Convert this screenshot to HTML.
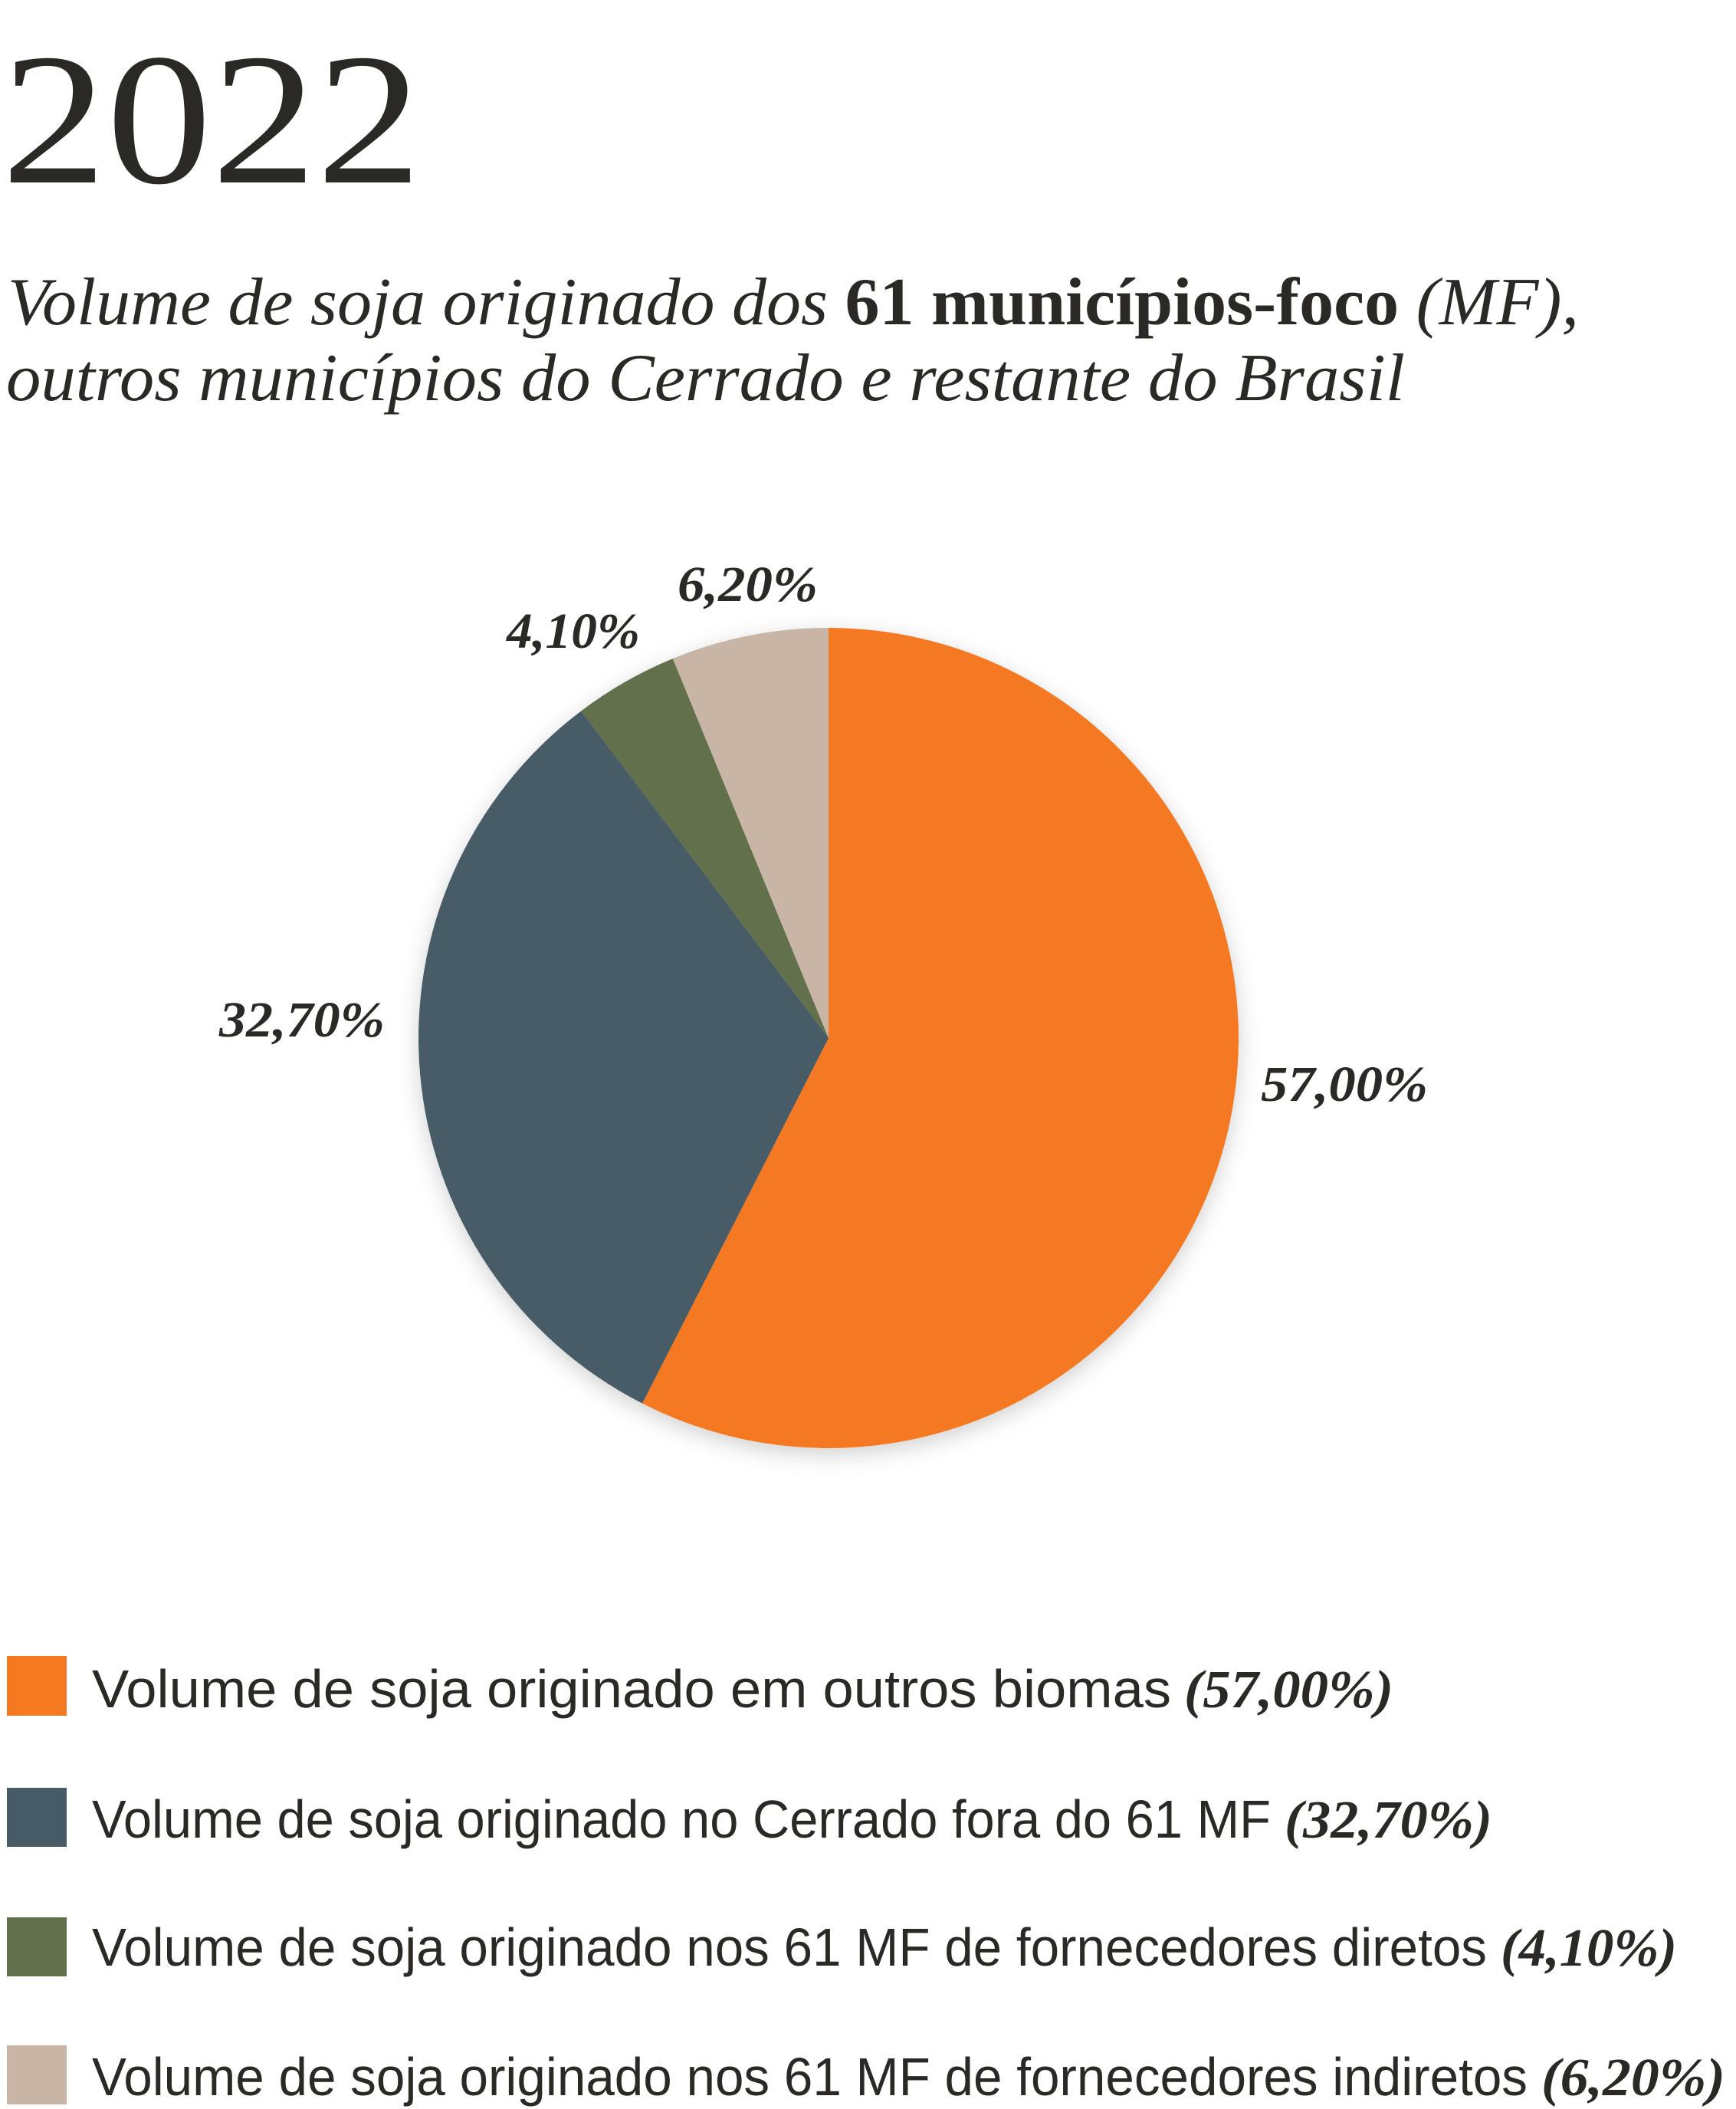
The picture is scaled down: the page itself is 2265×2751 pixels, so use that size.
<!DOCTYPE html>
<html><head><meta charset="utf-8"><style>
html,body{margin:0;padding:0;background:#fff;}
svg{display:block;}
</style></head><body>
<svg width="2265" height="2751" viewBox="0 0 2265 2751" xmlns="http://www.w3.org/2000/svg">
<defs>
<filter id="sh" x="-20%" y="-20%" width="140%" height="140%">
<feDropShadow dx="0" dy="8" stdDeviation="14" flood-color="#000" flood-opacity="0.18"/>
</filter>
</defs>
<g fill="#2a2925">
<text x="2" y="238" font-family="Liberation Serif, serif" font-size="245" textLength="548" lengthAdjust="spacingAndGlyphs">2022</text>
<text x="10" y="423" font-family="Liberation Serif, serif" font-style="italic" font-size="88" textLength="2050" lengthAdjust="spacingAndGlyphs">Volume de soja originado dos <tspan font-weight="bold" font-style="normal">61 municípios-foco</tspan> (MF),</text>
<text x="8" y="522" font-family="Liberation Serif, serif" font-style="italic" font-size="88" textLength="1825" lengthAdjust="spacingAndGlyphs">outros municípios do Cerrado e restante do Brasil</text>
</g>
<g filter="url(#sh)" transform="translate(1081,1354) scale(1.0075) translate(-1074,-1346)">
<path d="M1074,1346 L1074,815 A531,531 0 1 1 832.9,1819.1 Z" fill="#F47920"/>
<path d="M1074,1346 L832.9,1819.1 A531,531 0 0 1 753.7,922.5 Z" fill="#465B66"/>
<path d="M1074,1346 L753.7,922.5 A531,531 0 0 1 872.3,854.8 Z" fill="#62704B"/>
<path d="M1074,1346 L872.3,854.8 A531,531 0 0 1 1074,815 Z" fill="#C8B5A5"/>
</g>
<g fill="#2a2925" font-family="Liberation Serif, serif" font-style="italic" font-weight="bold" font-size="66" transform="translate(7,7)">
<text x="877" y="777" textLength="183" lengthAdjust="spacingAndGlyphs">6,20%</text>
<text x="654" y="838" textLength="174" lengthAdjust="spacingAndGlyphs">4,10%</text>
<text x="279" y="1345" textLength="216" lengthAdjust="spacingAndGlyphs">32,70%</text>
<text x="1638" y="1429" textLength="218" lengthAdjust="spacingAndGlyphs">57,00%</text>
</g>
<rect x="9" y="2160" width="78" height="78" fill="#F47920"/>
<rect x="9" y="2332" width="78" height="77" fill="#465B66"/>
<rect x="9" y="2501" width="78" height="77" fill="#62704B"/>
<rect x="9" y="2668" width="78" height="77" fill="#C8B5A5"/>
<g fill="#2a2925" font-family="Liberation Sans, sans-serif" font-size="70">
<text x="120" y="2227" textLength="1408" lengthAdjust="spacingAndGlyphs">Volume de soja originado em outros biomas</text>
<text x="120" y="2397" textLength="1538" lengthAdjust="spacingAndGlyphs">Volume de soja originado no Cerrado fora do 61 MF</text>
<text x="120" y="2564" textLength="1820" lengthAdjust="spacingAndGlyphs">Volume de soja originado nos 61 MF de fornecedores diretos</text>
<text x="120" y="2733" textLength="1873" lengthAdjust="spacingAndGlyphs">Volume de soja originado nos 61 MF de fornecedores indiretos</text>
</g>
<g fill="#2a2925" font-family="Liberation Serif, serif" font-style="italic" font-weight="bold" font-size="70">
<text x="1545" y="2227" textLength="273" lengthAdjust="spacingAndGlyphs">(57,00%)</text>
<text x="1676" y="2397" textLength="271" lengthAdjust="spacingAndGlyphs">(32,70%)</text>
<text x="1958" y="2564" textLength="230" lengthAdjust="spacingAndGlyphs">(4,10%)</text>
<text x="2011" y="2733" textLength="240" lengthAdjust="spacingAndGlyphs">(6,20%)</text>
</g>
</svg>
</body></html>
